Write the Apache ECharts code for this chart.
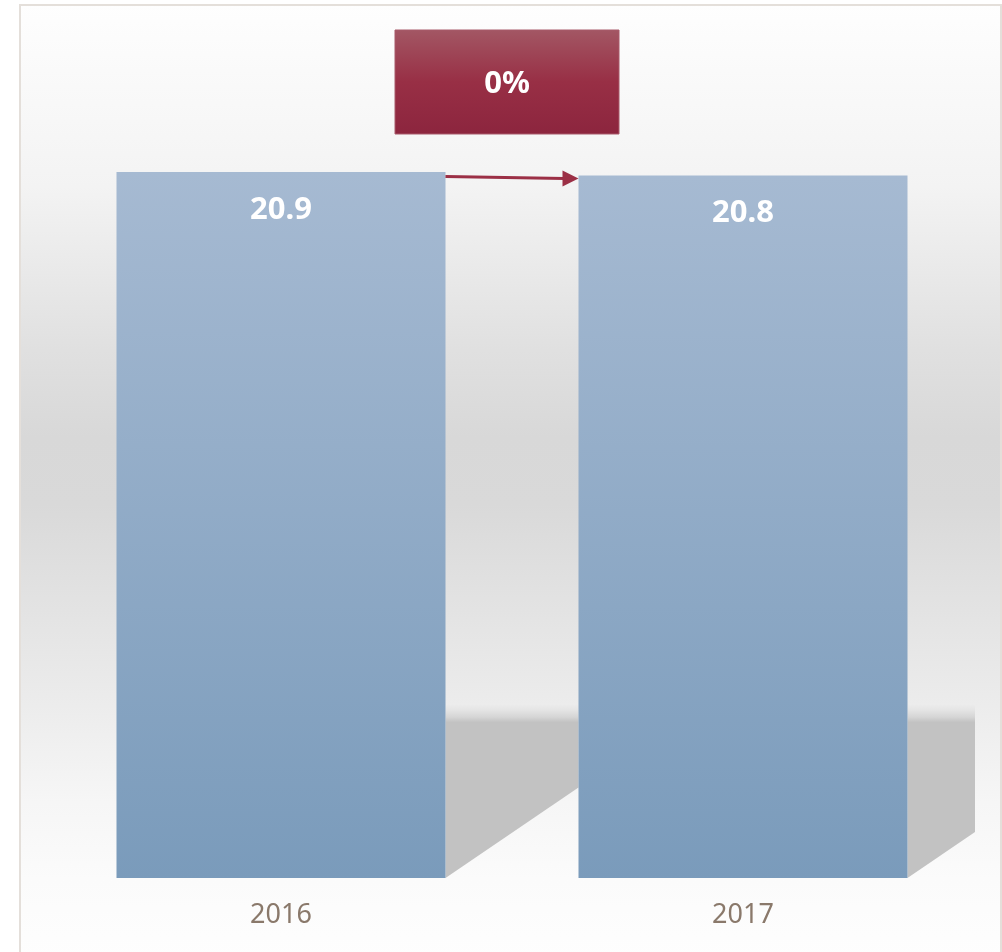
<!DOCTYPE html>
<html>
<head>
<meta charset="utf-8">
<style>
  html, body { margin: 0; padding: 0; background: #fff; }
  #chart { width: 1002px; height: 952px; }
</style>
<script src="https://cdn.jsdelivr.net/npm/echarts@6/dist/echarts.min.js"></script>
</head>
<body>
<div id="chart"></div>
<script>
const years = ['2016', '2017'];
const values = [20.9, 20.8];
const changeText = '0%';

const BAR_W = 329;
const chart = echarts.init(document.getElementById('chart'));

const grad = (stops) => new echarts.graphic.LinearGradient(0, 0, 0, 1,
  stops.map((c) => ({ offset: c[0], color: c[1] })));

chart.setOption({
  animation: false,
  grid: { left: 50, right: 28, top: 33.5, bottom: 74 },
  xAxis: {
    type: 'category',
    data: years,
    axisLine: { show: false },
    axisTick: { show: false },
    axisLabel: {
      color: '#8a796b',
      fontSize: 27,
      fontFamily: 'Noto Sans',
      margin: 24
    }
  },
  yAxis: { type: 'value', min: 0, max: 25, show: false },
  series: [
    {
      type: 'bar',
      data: values,
      barWidth: BAR_W,
      z: 3,
      itemStyle: { color: grad([[0, '#a6bad2'], [1, '#7a9bbb']]) },
      label: {
        show: true,
        position: ['50%', 38],
        align: 'center',
        verticalAlign: 'middle',
        color: '#fff',
        fontSize: 31,
        fontWeight: 'bold',
        fontFamily: 'Noto Sans'
      }
    }
  ]
});

// decoration: background frame, floor shadows, change arrow + box
const base = chart.convertToPixel({ seriesIndex: 0 }, [0, 0])[1];
const tops = values.map((v, i) => chart.convertToPixel({ seriesIndex: 0 }, [i, v]));
const gridRight = 1002 - 28;
const shadowTop = base - 173;

const shadows = tops.map((p, i) => {
  const x0 = p[0] + BAR_W / 2;
  const x1 = i + 1 < tops.length ? tops[i + 1][0] - BAR_W / 2 : gridRight + 1;
  const d = x1 - x0;
  return {
    type: 'polygon',
    silent: true,
    z: 1,
    shape: { points: [[x0, shadowTop], [x1, shadowTop], [x1, base - 0.68 * d], [x0, base]] },
    style: {
      fill: grad([
        [0, '#ebebeb'], [0.03, '#e4e4e4'], [0.07, '#d5d5d5'], [0.1, '#c2c2c2'], [1, '#c2c2c2']
      ])
    }
  };
});

const xa = tops[0][0] + BAR_W / 2;
const xb = tops[1][0] - BAR_W / 2;
const ya = tops[0][1] + 4.5;
const yb = tops[1][1] + 3;
const mid = (xa + xb) / 2 - 5;

chart.setOption({
  graphic: [
    {
      type: 'rect',
      silent: true,
      z: -10,
      shape: { x: 20, y: 5, width: 981, height: 960 },
      style: {
        stroke: '#e4dfda',
        lineWidth: 2,
        fill: grad([
          [0, '#fefefe'], [0.19, '#f3f3f3'], [0.36, '#e0e0e0'], [0.45, '#d8d8d8'],
          [0.52, '#d9d9d9'], [0.64, '#e4e4e4'], [0.73, '#ececec'], [0.83, '#f6f6f6'],
          [0.91, '#fbfbfb'], [1, '#fefefe']
        ])
      }
    },
    ...shadows,
    {
      type: 'line',
      silent: true,
      z: 5,
      shape: { x1: xa, y1: ya, x2: xb - 14, y2: yb },
      style: { stroke: '#9b2f45', lineWidth: 3 }
    },
    {
      type: 'polygon',
      silent: true,
      z: 5,
      shape: { points: [[xb - 16, yb - 8], [xb, yb], [xb - 16, yb + 8]] },
      style: { fill: '#9b2f45' }
    },
    {
      type: 'rect',
      silent: true,
      z: 5,
      shape: { x: mid - 112, y: 30, width: 224, height: 104 },
      style: {
        stroke: '#a85a6a',
        lineWidth: 1,
        fill: grad([[0, '#a35764'], [0.5, '#982f45'], [1, '#8c253e']])
      }
    },
    {
      type: 'text',
      silent: true,
      z: 6,
      x: mid,
      y: 84,
      style: {
        text: changeText,
        fill: '#fff',
        font: 'bold 31px "Noto Sans"',
        align: 'center',
        verticalAlign: 'middle'
      }
    }
  ]
});
</script>
</body>
</html>
